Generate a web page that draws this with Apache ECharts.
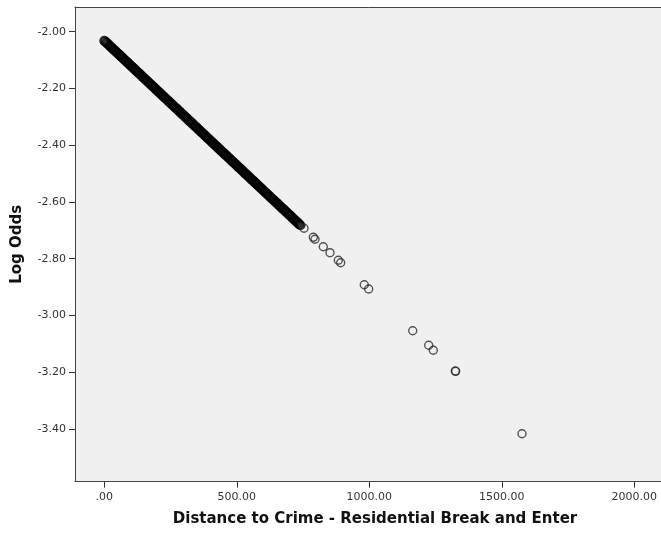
<!DOCTYPE html>
<html>
<head>
<meta charset="utf-8">
<script src="https://cdn.jsdelivr.net/npm/echarts@6/dist/echarts.min.js"></script>
<style>
html,body{margin:0;padding:0;background:#fff;overflow:hidden;}
#c{width:661px;height:533px;}
</style>
</head>
<body>
<div id="c"></div>
<script>
// Distance to Crime - Residential Break and Enter (x) and Log Odds (y)
const denseDistance = [
  0,5,10,15,20,25,30,35,40,45,50,55,60,65,70,75,80,85,90,95,
  100,105,110,115,120,125,130,135,140,145,150,155,160,165,170,175,180,185,190,195,
  200,205,210,215,220,225,230,235,240,245,250,255,260,265,270,275,280,285,290,295,
  300,305,310,315,320,325,330,335,340,345,350,355,360,365,370,375,380,385,390,395,
  400,405,410,415,420,425,430,435,440,445,450,455,460,465,470,475,480,485,490,495,
  500,505,510,515,520,525,530,535,540,545,550,555,560,565,570,575,580,585,590,595,
  600,605,610,615,620,625,630,635,640,645,650,655,660,665,670,675,680,685,690,695,
  700,705,710,715,720,725,730,735,740
];
const denseLogOdds = [
  -2.032,-2.036,-2.040,-2.045,-2.049,-2.054,-2.058,-2.063,-2.067,-2.071,-2.076,-2.080,-2.084,-2.089,-2.093,-2.098,-2.102,-2.106,-2.111,-2.115,
  -2.120,-2.124,-2.128,-2.133,-2.137,-2.142,-2.146,-2.150,-2.155,-2.159,-2.164,-2.168,-2.172,-2.177,-2.181,-2.186,-2.190,-2.194,-2.199,-2.203,
  -2.208,-2.212,-2.216,-2.221,-2.225,-2.230,-2.234,-2.238,-2.243,-2.247,-2.252,-2.256,-2.260,-2.265,-2.269,-2.273,-2.278,-2.282,-2.287,-2.291,
  -2.295,-2.300,-2.304,-2.309,-2.313,-2.317,-2.322,-2.326,-2.331,-2.335,-2.339,-2.344,-2.348,-2.353,-2.357,-2.361,-2.366,-2.370,-2.375,-2.379,
  -2.383,-2.388,-2.392,-2.397,-2.401,-2.405,-2.410,-2.414,-2.419,-2.423,-2.427,-2.432,-2.436,-2.440,-2.445,-2.449,-2.454,-2.458,-2.462,-2.467,
  -2.471,-2.476,-2.480,-2.484,-2.489,-2.493,-2.498,-2.502,-2.506,-2.511,-2.515,-2.520,-2.524,-2.528,-2.533,-2.537,-2.542,-2.546,-2.550,-2.555,
  -2.559,-2.564,-2.568,-2.572,-2.577,-2.581,-2.586,-2.590,-2.594,-2.599,-2.603,-2.607,-2.612,-2.616,-2.621,-2.625,-2.629,-2.634,-2.638,-2.643,
  -2.647,-2.651,-2.656,-2.660,-2.665,-2.669,-2.673,-2.678,-2.682
];
const sparseDistance = [753.6,788.7,795,826.4,851.7,883,892,981,997.7,1163.8,1224.2,1241.5,1324.5,1326,1576.2];
const sparseLogOdds = [-2.6927,-2.7245,-2.7315,-2.7576,-2.7787,-2.8055,-2.8140,-2.8915,-2.9066,-3.0536,-3.1050,-3.1226,-3.1956,-3.1968,-3.4165];
const xTicks = [0, 500, 1000, 1500, 2000];
const yTicks = [-3.4, -3.2, -3.0, -2.8, -2.6, -2.4, -2.2, -2.0];

const densePoints = denseDistance.map((d, i) => [d, denseLogOdds[i]]);
const sparsePoints = sparseDistance.map((d, i) => [d, sparseLogOdds[i]]);

const chart = echarts.init(document.getElementById('c'), null, {renderer: 'canvas'});
const labelFont = {fontFamily: 'DejaVu Sans', fontSize: 11, color: '#333'};
const nameFont = {fontFamily: 'DejaVu Sans', fontSize: 15, fontWeight: 'bold', color: '#111'};
const xMin = -110.6, xMax = 2153.6, yMin = -3.5856, yMax = -1.913;
chart.setOption({
  animation: false,
  grid: {
    left: 75, top: 7, width: 600, bottom: 51.3,
    outerBoundsMode: 'none',
    containLabel: false,
    show: false
  },
  xAxis: [{
    type: 'value',
    min: xMin, max: xMax,
    name: 'Distance to Crime - Residential Break and Enter',
    nameLocation: 'middle', nameGap: 30, nameTextStyle: nameFont,
    axisLine: {show: true, onZero: false, lineStyle: {color: '#444', width: 1}},
    axisTick: {show: true, length: 6, lineStyle: {color: '#333', width: 1}, customValues: xTicks},
    axisLabel: Object.assign({margin: 10, customValues: xTicks,
      formatter: v => v === 0 ? '.00' : v.toFixed(2)}, labelFont),
    splitLine: {show: false}
  }, {
    type: 'value', position: 'top',
    min: xMin, max: xMax,
    axisLine: {show: true, onZero: false, lineStyle: {color: '#444', width: 1}},
    axisTick: {show: false}, axisLabel: {show: false}, splitLine: {show: false}
  }],
  yAxis: {
    type: 'value',
    min: yMin, max: yMax,
    name: 'Log Odds',
    nameLocation: 'middle', nameGap: 50, nameTextStyle: nameFont,
    axisLine: {show: true, onZero: false, lineStyle: {color: '#444', width: 1}},
    axisTick: {show: true, length: 6, lineStyle: {color: '#333', width: 1}, customValues: yTicks},
    axisLabel: Object.assign({margin: 9, customValues: yTicks,
      formatter: v => v.toFixed(2)}, labelFont),
    splitLine: {show: false}
  },
  series: [{
    type: 'scatter',
    data: densePoints,
    symbol: 'circle',
    symbolSize: 8,
    itemStyle: {color: 'rgba(0,0,0,0)', borderColor: '#000', borderWidth: 2.2},
    emphasis: {disabled: true},
    z: 3,
    markArea: {
      silent: true,
      itemStyle: {color: '#f0f0f0', borderWidth: 0},
      data: [[{coord: [xMin, yMin]}, {coord: [xMax, yMax]}]],
      z: 0
    }
  }, {
    type: 'scatter',
    data: sparsePoints,
    symbol: 'circle',
    symbolSize: 8,
    itemStyle: {color: 'rgba(0,0,0,0)', borderColor: '#2a2a2a', borderWidth: 1.4},
    emphasis: {disabled: true},
    z: 3
  }]
});
</script>
</body>
</html>
